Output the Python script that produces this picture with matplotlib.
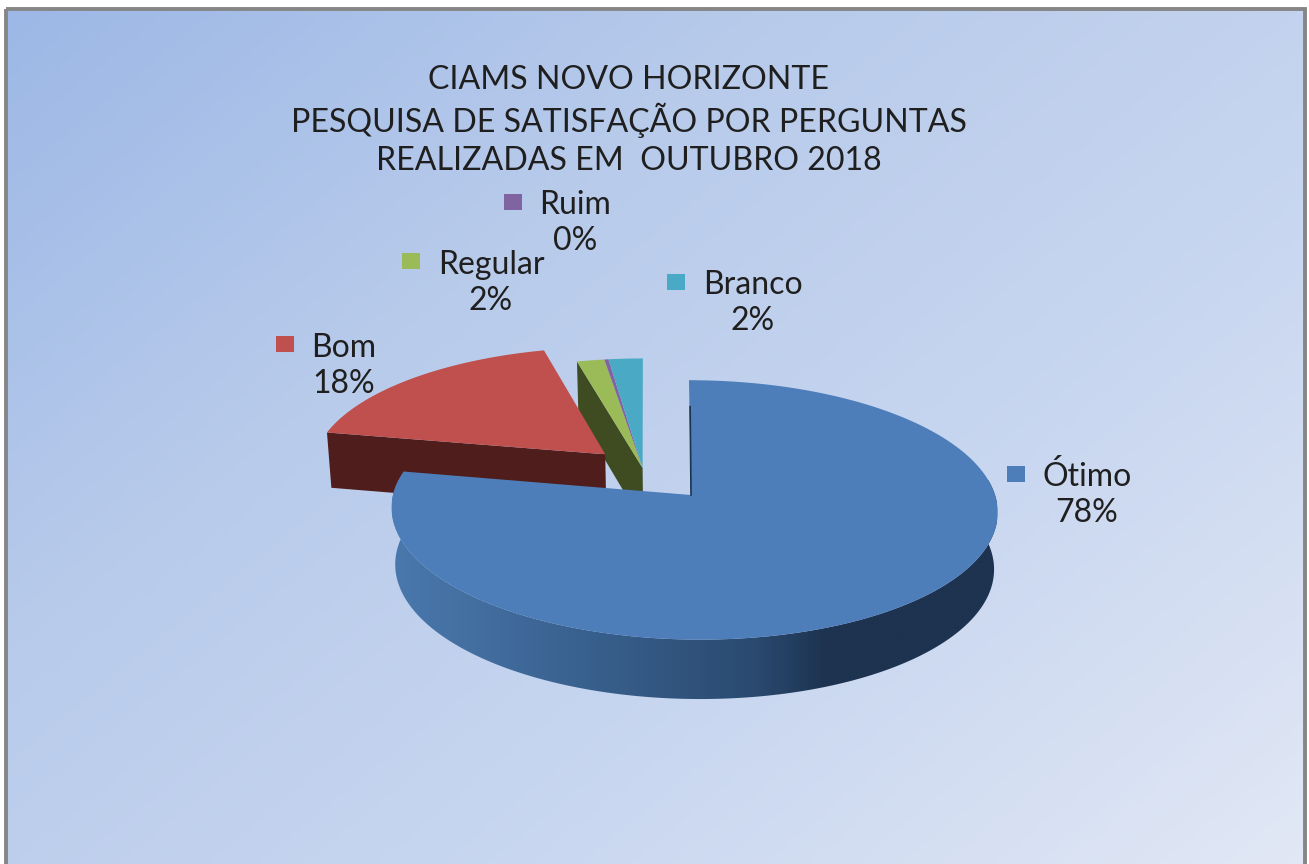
"""
CIAMS Novo Horizonte - pie chart with 3D look, drawn by hand on one pixel-sized axes
"""
import numpy as np
import matplotlib
matplotlib.use("Agg")
import matplotlib.pyplot as plt
from matplotlib.colors import LinearSegmentedColormap
from matplotlib.patches import Polygon, Rectangle

categories = ["Ótimo", "Bom", "Regular", "Ruim", "Branco"]
values = [78, 18, 1.67, 0.25, 2.08]
title_lines = ["CIAMS NOVO HORIZONTE",
               "PESQUISA DE SATISFAÇÃO POR PERGUNTAS",
               "REALIZADAS EM  OUTUBRO 2018"]

top_colors = ["#4d7eba", "#c0504d", "#9bbb59", "#8064a2", "#4aa9c4"]
# how far each slice is pulled out of the pie (disc units)
explode = [(0, 0), (-0.30, 0.33), (-0.171, 0.216), (-0.171, 0.216), (-0.171, 0.216)]
# marker centre, text centre x, first text line y
label_pos = [((1016, 474), 1087, 477), ((285, 344), 344, 348), ((411, 261), 491, 265),
             ((513, 202), 575, 205), ((676, 282), 753, 285)]

W, H = 1309, 864
CX, CY = 694, 495
A, B, K, SHEAR = 301, 128, 0.115, -5.6


def project(u, v, z=0.0):
    """disc coords to pixels, z=1 is the bottom of the pie"""
    d = 1 + K * v
    x = CX + (A * u + SHEAR * v) / d * (1 - 0.012 * z)
    y = CY - B * v / d + (56.7 - 2.7 * v) * z
    return x, y


def rim(a0, a1, off, z=0.0, n=200):
    t = np.radians(np.linspace(a0, a1, n))
    return np.column_stack(project(off[0] + np.cos(t), off[1] + np.sin(t), z))


def gradient_in(ax, stops, clip, extent, direction=(1, 0), zorder=1):
    """paint a linear gradient, clipped to a patch"""
    yy, xx = np.mgrid[0:1:300j, 0:1:400j]
    cmap = LinearSegmentedColormap.from_list("g", stops)
    im = ax.imshow(direction[0] * xx + direction[1] * yy, cmap=cmap, vmin=0, vmax=1,
                   extent=extent, origin="upper", aspect="auto", zorder=zorder)
    im.set_clip_path(clip)


plt.rcParams["font.family"] = ["Lato", "DejaVu Sans"]
fig = plt.figure(figsize=(W / 100, H / 100), dpi=100, facecolor="white")
ax = fig.add_axes([0, 0, 1, 1])

# background and frame
frame = Rectangle((6, 9), 1299, 870, facecolor="none", edgecolor="none", transform=ax.transData)
ax.add_patch(frame)
gradient_in(ax, ["#9db8e6", "#b8cbeb", "#c9d7f0", "#e2e8f5"], frame, (6, 1305, 880, 9), (0.55, 0.45), 0)
ax.add_patch(Rectangle((6, 9), 1299, 870, facecolor="none", edgecolor="#868686", lw=2.8, zorder=1))

# slice angles, clockwise from 12 o'clock
angles = 90 - np.cumsum([0] + values) / sum(values) * 360
start, end = angles[:-1], angles[1:]

# walls of the radial edge facing us (Regular, then Bom)
for i, col in [(2, "#3f4c22"), (1, "#4f1e1c")]:
    off = explode[i]
    t = np.radians(start[i])
    pts = [project(off[0] + np.cos(t), off[1] + np.sin(t)), project(*off),
           project(*off, 1), project(off[0] + np.cos(t), off[1] + np.sin(t), 1)]
    ax.add_patch(Polygon(pts, closed=True, facecolor=col, edgecolor="none", zorder=2 + (i == 1) * 2))

# tops of the small slices, then Bom
for i in [2, 3, 4, 1]:
    pts = np.vstack([rim(start[i], end[i], explode[i]), [project(*explode[i])]])
    ax.add_patch(Polygon(pts, closed=True, facecolor=top_colors[i], edgecolor="none", zorder=3 + (i == 1) * 2))

# blue wall with its shading
wall = np.vstack([rim(170, 370, explode[0]), rim(370, 170, explode[0], 1)])
wall_patch = Polygon(wall, closed=True, facecolor="none", edgecolor="none", transform=ax.transData)
ax.add_patch(wall_patch)
gradient_in(ax, [(0, "#4a78ad"), (0.3, "#3a6290"), (0.6, "#2a4a70"), (0.72, "#1d3350"), (1, "#1d3350")],
            wall_patch, (392, 997, 700, 480), (1, 0), 6)

# blue top
hub = (691, CY)
pts = np.vstack([rim(start[0], end[0], explode[0]), [hub]])
ax.add_patch(Polygon(pts, closed=True, facecolor=top_colors[0], edgecolor="none", zorder=7))
ax.plot(*zip(project(0, 0.75), hub), color="#1d3350", lw=1.2, zorder=8)

# texts
for line, y in zip(title_lines, [80, 120, 161]):
    ax.text(629, y, line, ha="center", va="center", fontsize=23.1, color="#1f1f1f", zorder=9)

for i, (mark, tx, ty) in enumerate(label_pos):
    ax.add_patch(Rectangle((mark[0] - 9, mark[1] - 8), 18, 16, facecolor=top_colors[i], edgecolor="none", zorder=9))
    ax.text(tx, ty, categories[i], ha="center", va="center", fontsize=23, color="#1f1f1f", zorder=9)
    ax.text(tx, ty + 36, f"{round(values[i])}%", ha="center", va="center", fontsize=23, color="#1f1f1f", zorder=9)

ax.set_xlim(0, W)
ax.set_ylim(H, 0)
ax.axis("off")
fig.savefig("out.png", dpi=100)
